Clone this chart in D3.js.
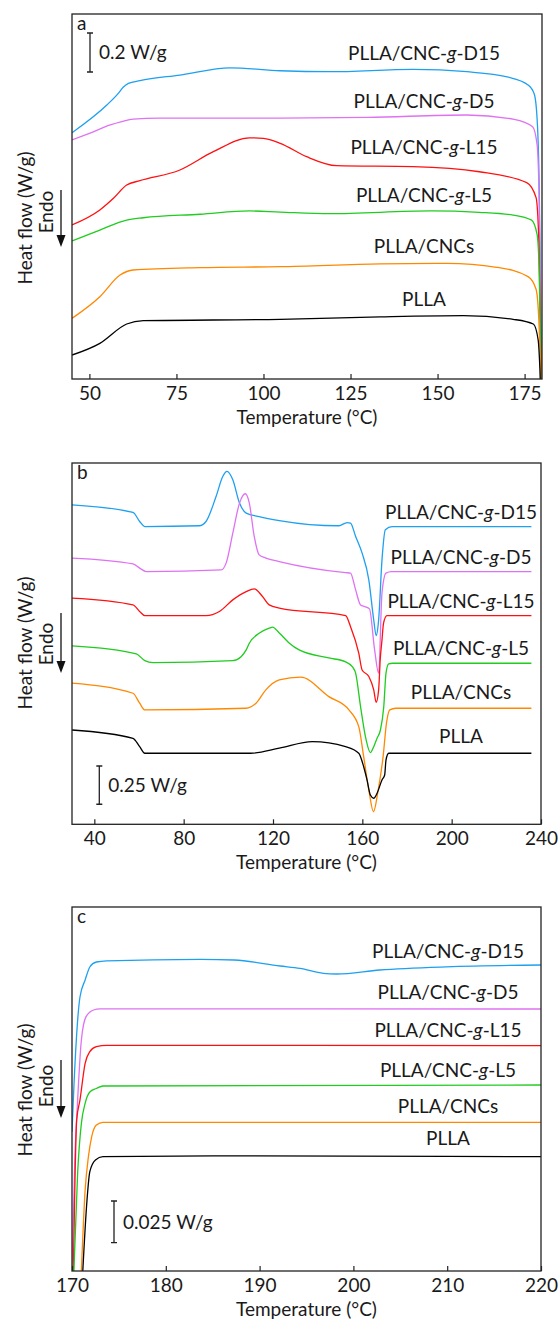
<!DOCTYPE html>
<html>
<head>
<meta charset="utf-8">
<script src="https://cdn.jsdelivr.net/npm/d3@7"></script>
<style>
  body { margin: 0; background: #fff; }
  svg text { font-family: Lato, "Open Sans", sans-serif; fill: #1a1a1a; }
</style>
</head>
<body>
<svg id="chart" width="559" height="1321"></svg>
<script>
// sample names and colours (top to bottom)
const sampleNames = ["PLLA/CNC-g-D15", "PLLA/CNC-g-D5", "PLLA/CNC-g-L15", "PLLA/CNC-g-L5", "PLLA/CNCs", "PLLA"];
const sampleColors = ["#1ea0f0", "#df72f2", "#ff1010", "#1fcc1f", "#ff8800", "#000000"];

// tick labels
const aTicks = [50, 75, 100, 125, 150, 175];
const bTicks = [40, 80, 120, 160, 200, 240];
const cTicks = [170, 180, 190, 200, 210, 220];

// scale bars (W/g)
const scaleBars = [0.2, 0.25, 0.025];

// panel a: [temperature °C, heat flow W/g, offset stacked]
const aD15 = [[45,1.263],[55,1.405],[58.3,1.465],[59.7,1.496],[61.2,1.516],[64.5,1.530],[76,1.559],[90.4,1.596],[104.8,1.581],[119,1.576],[143,1.588],[158.4,1.576],[170,1.549],[176,1.508],[177.8,1.46],[178.7,1.30],[179.2,0.98],[179.6,0.40],[180,-0.3]];
const aD5 = [[45,1.226],[50,1.260],[56,1.303],[59.3,1.320],[62.6,1.333],[70,1.338],[104.8,1.338],[130,1.342],[158.4,1.354],[172,1.332],[177.3,1.294],[178.6,1.20],[179.2,0.90],[179.6,0.30],[180,-0.3]];
const aL15 = [[45,0.790],[53,0.867],[56.9,0.927],[60.7,0.995],[64.5,1.017],[76,1.072],[85.6,1.166],[96,1.237],[100,1.234],[104.8,1.209],[112.4,1.140],[121,1.094],[143,1.089],[162,1.063],[175.6,1.007],[178.3,0.93],[179.1,0.70],[179.6,0.20],[180,-0.3]];
const aL5 = [[45,0.708],[53,0.764],[60.7,0.815],[65.5,0.827],[81.8,0.845],[96,0.862],[104.8,0.856],[119,0.848],[148,0.862],[162,0.855],[171.7,0.841],[177,0.815],[178.6,0.74],[179.2,0.55],[179.6,0.15],[180,-0.3]];
const aCNC = [[45,0.311],[53,0.422],[58.8,0.533],[62.6,0.559],[81.8,0.571],[104.8,0.576],[133.5,0.590],[152.7,0.593],[167,0.573],[176,0.525],[178.3,0.46],[179.1,0.30],[179.6,0.05],[180,-0.3]];
const aPLLA = [[45,0.123],[53,0.183],[60.7,0.282],[65.5,0.299],[104.8,0.306],[133.5,0.319],[157.4,0.325],[171.7,0.306],[177.5,0.282],[178.9,0.20],[179.4,0.05],[180,-0.3]];

// panel b
const bD15 = [[30,2.087],[57.3,2.037],[60.3,1.978],[62.6,1.945],[87,1.950],[90,1.978],[94.5,2.141],[97.5,2.272],[99.4,2.305],[102,2.250],[105,2.098],[108,2.033],[113.8,2.010],[122.8,1.984],[149.5,1.950],[153.2,1.971],[154.7,1.967],[157,1.880],[159.9,1.771],[162.9,1.597],[165.1,1.335],[166.2,1.233],[167.3,1.335],[168.8,1.727],[170.3,1.924],[173.3,1.945],[235.7,1.945]];
const bD5 = [[30,1.739],[57.3,1.701],[60.3,1.673],[63.3,1.651],[96.8,1.662],[99,1.706],[102,1.902],[105,2.098],[107.6,2.159],[109.4,2.098],[111.6,1.880],[113.8,1.760],[116.8,1.739],[122.8,1.716],[152.5,1.644],[154.7,1.641],[157,1.531],[159.2,1.433],[161.1,1.422],[163.2,1.407],[165.5,1.139],[167.3,0.987],[168.8,1.512],[170.6,1.641],[173,1.651],[235.7,1.651]];
const bL15 = [[30,1.477],[57.3,1.433],[60.3,1.390],[62.6,1.363],[90,1.363],[96,1.390],[102,1.466],[108,1.520],[111.6,1.538],[115.3,1.488],[118.3,1.433],[122.8,1.412],[152.5,1.363],[154.7,1.292],[158.4,1.118],[159.9,1.008],[162.9,0.965],[165.1,0.878],[166.2,0.797],[167.3,0.878],[168,1.074],[168.8,1.205],[169.5,1.314],[171,1.363],[235.7,1.363]];
const bL5 = [[30,1.165],[58.8,1.113],[62.6,1.069],[66.3,1.056],[102,1.069],[105.7,1.095],[108,1.139],[109.4,1.183],[113.8,1.248],[118.3,1.281],[119.8,1.288],[122.8,1.250],[127.2,1.185],[131.7,1.139],[145,1.087],[152.5,1.061],[155.6,1.028],[157,0.987],[159.2,0.769],[161.7,0.551],[163.6,0.468],[165.1,0.507],[166.6,0.562],[168.1,0.616],[169.6,0.769],[170.6,0.987],[171.8,1.048],[173.5,1.052],[235.7,1.052]];
const bCNC = [[30,0.922],[57.3,0.856],[60.3,0.791],[62.6,0.747],[107.9,0.758],[112.4,0.791],[116.8,0.878],[122.8,0.943],[132.4,0.961],[145,0.834],[154,0.747],[158.4,0.638],[160.6,0.442],[162.9,0.224],[165,0.082],[167.1,0.224],[169.3,0.442],[170.8,0.660],[172.3,0.747],[175,0.758],[235.7,0.758]];
const bPLLA = [[30,0.616],[57.3,0.562],[60.3,0.507],[62.6,0.464],[110,0.464],[122.8,0.497],[137.6,0.540],[152.5,0.507],[158.4,0.464],[160.6,0.376],[162.1,0.290],[163.6,0.191],[165.1,0.170],[166.6,0.203],[168.8,0.290],[170,0.322],[170.6,0.420],[171.8,0.464],[235.7,0.464]];

// panel c
const cD15 = [[170,0.0834],[170.2,0.1104],[170.85,0.1644],[171.4,0.1746],[171.9,0.1824],[172.6,0.1854],[173.7,0.1861],[183.7,0.1870],[187.3,0.1866],[192.2,0.1830],[194.3,0.1816],[196.8,0.1786],[198.2,0.1782],[202.8,0.1806],[209.9,0.1825],[220,0.1836]];
const cD5 = [[170,0],[170.3,0.0666],[170.6,0.1026],[171,0.1386],[171.5,0.1526],[172.3,0.1566],[173,0.1573],[220,0.1572]];
const cL15 = [[170.15,0],[170.5,0.0906],[170.85,0.1026],[171.4,0.1246],[171.9,0.1316],[172.6,0.1346],[173.7,0.1354],[220,0.1352]];
const cL5 = [[170.2,0],[170.6,0.0586],[171,0.0886],[171.4,0.1006],[171.9,0.1074],[172.6,0.1095],[173.3,0.1110],[220,0.1116]];
const cCNC = [[171,0],[171.4,0.0486],[171.75,0.0686],[172.1,0.0806],[172.6,0.0876],[173.3,0.0892],[220,0.0892]];
const cPLLA = [[171.15,0],[171.6,0.0426],[171.9,0.0596],[172.5,0.0666],[173.3,0.0686],[185,0.0691],[220,0.0686]];

const svg = d3.select("#chart");
const FONT = 19;

const panels = [
  { id: "a", letter: "a", series: [aD15, aD5, aL15, aL5, aCNC, aPLLA], ticks: aTicks,
    xDomain: [45, 180], yMax: 1.872, left: 72, right: 542, top: 14, bottom: 379,
    labelX: 424, labelY: [60, 108, 154, 201.5, 253, 306],
    bar: { value: scaleBars[0], x: 90, top: 33 },
    yLabelY: 218, endoY: 212, arrow: [190, 247] },
  { id: "b", letter: "b", series: [bD15, bD5, bL15, bL5, bCNC, bPLLA], ticks: bTicks,
    xDomain: [30, 240], yMax: 2.36, left: 72, right: 541, top: 463, bottom: 824.3,
    labelX: 461, labelY: [519, 564, 608, 655, 699, 743],
    bar: { value: scaleBars[1], x: 99.3, top: 766 },
    yLabelY: 643, endoY: 644, arrow: [613, 673] },
  { id: "c", letter: "c", series: [cD15, cD5, cL15, cL5, cCNC, cPLLA], ticks: cTicks,
    xDomain: [170, 220], yMax: 0.2184, left: 72, right: 541, top: 907, bottom: 1271,
    labelX: 448, labelY: [958, 999, 1037, 1076.5, 1112.5, 1145],
    bar: { value: scaleBars[2], x: 114, top: 1201 },
    yLabelY: 1090, endoY: 1086, arrow: [1060, 1118] }
];

function addSampleLabel(g, name, x, y) {
  const t = g.append("text").attr("x", x).attr("y", y)
    .attr("text-anchor", "middle").style("font-size", FONT + "px");
  const parts = name.split("-g-");
  if (parts.length === 2) {
    t.append("tspan").text(parts[0] + "-");
    t.append("tspan").style("font-style", "italic").text("g");
    t.append("tspan").text("-" + parts[1]);
  } else {
    t.text(name);
  }
}

panels.forEach((p) => {
  const g = svg.append("g").attr("class", "panel-" + p.id);
  const x = d3.scaleLinear().domain(p.xDomain).range([p.left, p.right]);
  const y = d3.scaleLinear().domain([0, p.yMax]).range([p.bottom, p.top]);

  g.append("clipPath").attr("id", "clip-" + p.id)
    .append("rect")
    .attr("x", p.left).attr("y", p.top)
    .attr("width", p.right - p.left).attr("height", p.bottom - p.top);

  const line = d3.line()
    .x((d) => x(d[0]))
    .y((d) => y(d[1]))
    .curve(d3.curveMonotoneX);

  g.append("g").attr("clip-path", `url(#clip-${p.id})`)
    .selectAll("path")
    .data(p.series)
    .enter()
    .append("path")
    .attr("d", line)
    .attr("fill", "none")
    .attr("stroke", (d, i) => sampleColors[i])
    .attr("stroke-width", 1.3)
    .attr("stroke-linejoin", "round");

  // frame
  g.append("rect")
    .attr("x", p.left).attr("y", p.top)
    .attr("width", p.right - p.left).attr("height", p.bottom - p.top)
    .attr("fill", "none").attr("stroke", "#222").attr("stroke-width", 1.3);

  // bottom axis, ticks inward
  const ax = g.append("g")
    .attr("transform", `translate(0,${p.bottom})`)
    .call(d3.axisBottom(x).tickValues(p.ticks).tickSizeInner(-5).tickSizeOuter(0).tickPadding(7.5));
  ax.select(".domain").remove();
  ax.selectAll("line").attr("stroke", "#222").attr("stroke-width", 1.2);
  ax.selectAll("text").attr("font-family", null).style("font-size", FONT + "px").attr("fill", "#1a1a1a");

  g.append("text")
    .attr("x", (p.left + p.right) / 2).attr("y", p.bottom + 44.5)
    .attr("text-anchor", "middle").style("font-size", FONT + "px")
    .text("Temperature (°C)");

  // y label, Endo and arrow
  g.append("text")
    .attr("transform", `translate(32,${p.yLabelY}) rotate(-90)`)
    .attr("text-anchor", "middle").style("font-size", FONT + "px")
    .text("Heat flow (W/g)");
  g.append("text")
    .attr("transform", `translate(53,${p.endoY}) rotate(-90)`)
    .attr("text-anchor", "middle").style("font-size", FONT + "px")
    .text("Endo");
  g.append("line")
    .attr("x1", 61).attr("x2", 61)
    .attr("y1", p.arrow[0]).attr("y2", p.arrow[1] - 10)
    .attr("stroke", "#111").attr("stroke-width", 1.3);
  g.append("path")
    .attr("d", `M56.5,${p.arrow[1] - 12}L65.5,${p.arrow[1] - 12}L61,${p.arrow[1]}Z`)
    .attr("fill", "#111");

  // panel letter
  g.append("text").attr("x", p.left + 5).attr("y", p.top + 15.5)
    .style("font-size", FONT + "px").text(p.letter);

  // scale bar
  const barLen = y(0) - y(p.bar.value);
  const b0 = p.bar.top, b1 = p.bar.top + barLen;
  g.append("path")
    .attr("d", `M${p.bar.x - 3},${b0}H${p.bar.x + 3}M${p.bar.x},${b0}V${b1}M${p.bar.x - 3},${b1}H${p.bar.x + 3}`)
    .attr("stroke", "#222").attr("stroke-width", 1.3).attr("fill", "none");
  g.append("text")
    .attr("x", p.bar.x + 9).attr("y", (b0 + b1) / 2 + 7)
    .style("font-size", FONT + "px")
    .text(p.bar.value + " W/g");

  // sample labels
  sampleNames.forEach((name, i) => addSampleLabel(g, name, p.labelX, p.labelY[i]));
});
</script>
</body>
</html>
